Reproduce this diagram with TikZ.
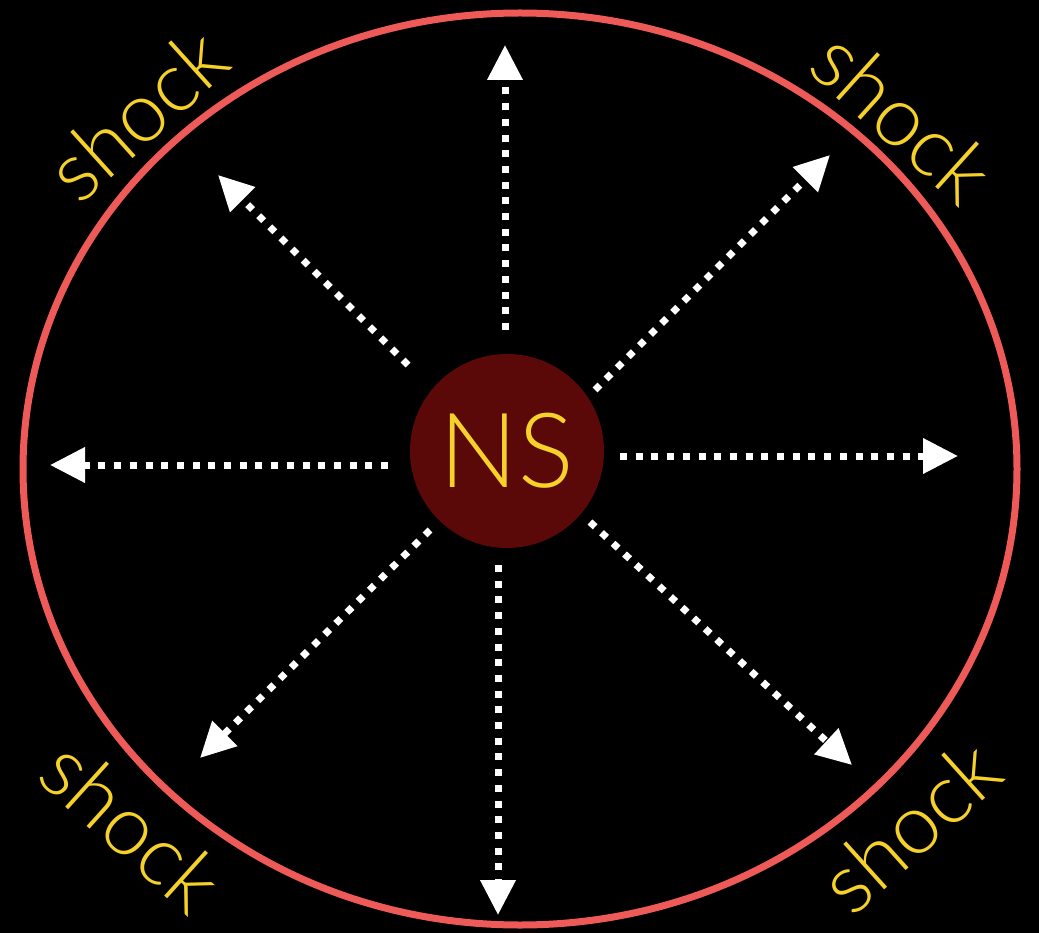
\documentclass[tikz,border=0pt]{standalone}
\usepackage{fontspec}
\setmainfont{Lato Light}
\usetikzlibrary{arrows.meta}
\definecolor{shockred}{HTML}{EE5A57}
\definecolor{nsred}{HTML}{5A0808}
\definecolor{nsyellow}{HTML}{F5D12A}
\tikzset{
  ray/.style={white, line width=7pt, dash pattern=on 7pt off 8.7pt,
    -{Triangle[length=35pt,width=34pt]}},
  shocklabel/.style={text=nsyellow, inner sep=0pt, font=\fontsize{84}{84}\selectfont}
}
\begin{document}
\begin{tikzpicture}[x=1pt,y=-1pt]
\fill[black] (0,0) rectangle (1039,933);
\useasboundingbox (0,0) rectangle (1039,933);
\draw[shockred, line width=7pt] (520,469) ellipse [x radius=497, y radius=456];
\node[circle, fill=nsred, minimum size=194pt, inner sep=0pt, text=nsyellow,
  font=\fontsize{104}{104}\selectfont] (ns) at (507,451) {NS};
% ray start and tip points
\coordinate (s1) at (505,330); \coordinate (t1) at (505,45);
\coordinate (s2) at (498,565); \coordinate (t2) at (498,915);
\coordinate (s3) at (388,465); \coordinate (t3) at (50,465);
\coordinate (s4) at (620,456); \coordinate (t4) at (958,456);
\coordinate (s5) at (408,365); \coordinate (t5) at (218,175);
\coordinate (s6) at (595,390); \coordinate (t6) at (830,155);
\coordinate (s7) at (430,530); \coordinate (t7) at (200,758);
\coordinate (s8) at (590,522); \coordinate (t8) at (852,765);
\foreach \i in {1,...,8} { \draw[ray] (s\i) -- (t\i); }
\node[shocklabel, rotate=42] (l1) at (137,114) {shock};
\node[shocklabel, rotate=-42] (l2) at (903,117) {shock};
\node[shocklabel, rotate=-42] (l3) at (132,826) {shock};
\node[shocklabel, rotate=42] (l4) at (910,826) {shock};
\end{tikzpicture}
\end{document}
